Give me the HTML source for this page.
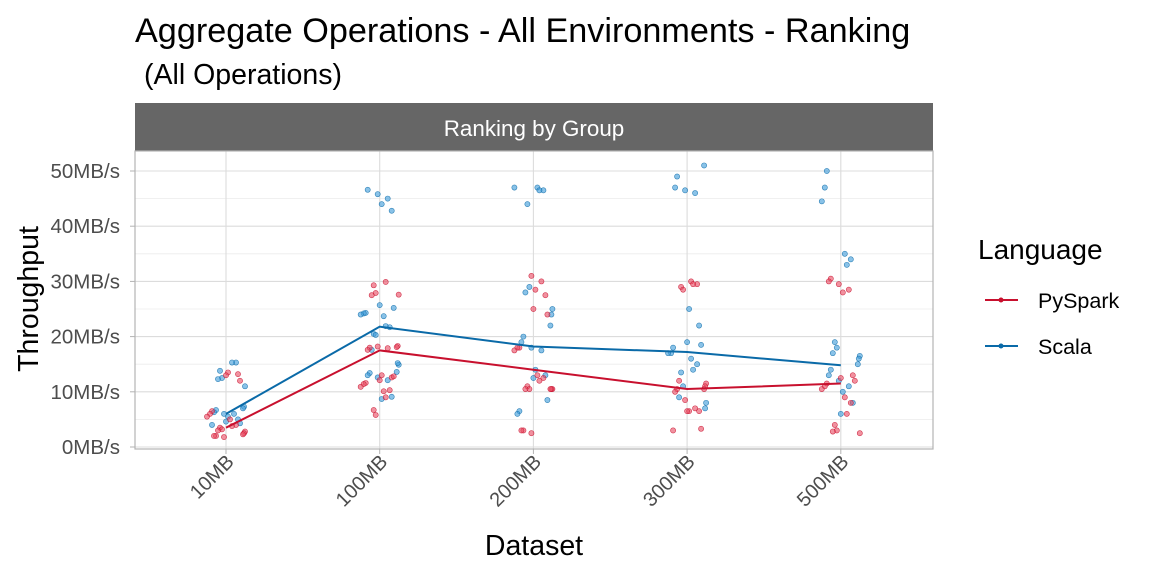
<!DOCTYPE html>
<html><head><meta charset="utf-8"><style>
body{margin:0;background:#fff;font-family:"Liberation Sans",Arial,sans-serif}
</style></head><body>
<svg width="1152" height="576" xmlns="http://www.w3.org/2000/svg">
<text x="135" y="42" font-size="34.2" fill="#000">Aggregate Operations - All Environments - Ranking</text>
<text x="144" y="84" font-size="28.5" fill="#000">(All Operations)</text>
<rect x="135" y="103" width="798" height="48" fill="#666"/>
<text x="534" y="136" font-size="22.4" fill="#fff" text-anchor="middle">Ranking by Group</text>
<g id="grid"></g>
<g id="marks"></g>
<rect x="135" y="151" width="798" height="298" fill="none" stroke="#b3b3b3" stroke-width="1.2"/>
<g id="axes"></g>
<text x="534" y="555" font-size="28.5" text-anchor="middle">Dataset</text>
<text transform="translate(38,299) rotate(-90)" font-size="28.5" text-anchor="middle">Throughput</text>
<g>
<text x="978" y="259" font-size="28">Language</text>
<g><line x1="985" y1="300" x2="1018" y2="300" stroke="#c8102e" stroke-width="2"/><circle cx="1001" cy="300" r="2.5" fill="#c8102e"/><text x="1038" y="308" font-size="21.5">PySpark</text></g>
<g><line x1="985" y1="346" x2="1018" y2="346" stroke="#0a6aa8" stroke-width="2"/><circle cx="1001" cy="346" r="2.5" fill="#0a6aa8"/><text x="1038" y="354" font-size="21.5">Scala</text></g>
</g>
</svg>
<script>
const categories=["10MB","100MB","200MB","300MB","500MB"];
const yTicks=[0,10,20,30,40,50];
const pysparkMean=[3.5,17.5,14,10.5,11.5];
const scalaMean=[6,21.8,18.2,17.2,14.8];
const pysparkPoints=[
[13.5,13.2,13,12,6.5,6,5.5,5,4,3.8,3.5,3.2,3,2.8,2.5,2.3,2,2,1.8],
[29.9,29.3,27.9,27.5,27.6,18.3,18.1,18,17.6,18.2,17.9,13,12.6,12.1,12.8,11.6,11.4,10.9,10.1,10.3,9,6.7,5.8],
[31,30,28.5,27.5,25,24,18,18,17.5,13,12.5,12,11,10.5,10.5,10.5,10.5,10.5,3,3,2.5],
[30,29.5,29.5,29,28.5,12,11.5,11,10.5,10.5,10,8.5,7,6.5,6.5,6.5,3.3,3],
[30.5,30,29.5,28.5,28,13,12.5,12,11.5,11,10.5,9,8,6,4,3,2.8,2.5]];
const scalaPoints=[
[15.3,15.3,13.8,12.5,12.3,11,7.3,7,6.7,6.3,6,6,5.5,5,4.6,4.3,4],
[46.6,45.8,45,44,42.8,25.7,25.2,24.3,24.2,24,23.7,21.7,21.9,20.5,20.3,17.6,14.9,15.2,13.6,13.4,13,12.6,12.1,8.7,9.1],
[47,47,46.5,46.5,44,29,28,25,24,22,20,19,18,17.5,14,13,12.5,8.5,6.5,6],
[51,49,47,46.5,46,25,22,19,18.5,18,17,17,16,15,14,13.5,11,9,8,7],
[50,47,44.5,35,34,33,19,18,17,16.5,16,15,14,13,12,11,10,8,6]];
const jitterPattern=[-0.8,0.5,-0.2,0.9,-0.6,0.1,0.7,-0.95,0.3,-0.4,0.85,-0.1,0.6,-0.7,0.2,-0.3,0.95,-0.5,0.4,0];
const NS="http://www.w3.org/2000/svg";
const x=i=>226+i*153.7;
const y=v=>447-v*5.52;
function el(tag,attrs,parent){const e=document.createElementNS(NS,tag);for(const k in attrs)e.setAttribute(k,attrs[k]);parent.appendChild(e);return e;}
const grid=document.getElementById('grid'),marks=document.getElementById('marks'),axes=document.getElementById('axes');
for(let v=5;v<=52;v+=10){const l=el('line',{x1:135,x2:933,y1:y(v),y2:y(v),stroke:'#ececec','stroke-width':0.8},grid);}
yTicks.forEach(v=>{const l=el('line',{x1:135,x2:933,y1:y(v),y2:y(v),stroke:'#dcdcdc','stroke-width':1.1},grid);
const t=el('text',{x:120,y:y(v)+7,'font-size':20.5,fill:'#4d4d4d','text-anchor':'end'},axes);t.textContent=v+'MB/s';
const tk=el('line',{x1:130,x2:135,y1:y(v),y2:y(v),stroke:'#b3b3b3'},axes);});
categories.forEach((c,i)=>{const l=el('line',{x1:x(i),x2:x(i),y1:151,y2:449,stroke:'#dcdcdc','stroke-width':1.1},grid);
const tk=el('line',{x1:x(i),x2:x(i),y1:449,y2:454,stroke:'#b3b3b3'},axes);
const t=el('text',{transform:`translate(${x(i)+9},${463}) rotate(-45)`,'font-size':20,fill:'#4d4d4d','text-anchor':'end'},axes);t.textContent=c;});
function drawPoints(data,fill,stroke,name,seed){data.forEach((arr,i)=>arr.forEach((v,j)=>{const off=jitterPattern[(j*7+seed+i*3)%jitterPattern.length]*20;
const c=el('circle',{cx:x(i)+off,cy:y(v),r:2.6,fill:fill,'fill-opacity':0.6,stroke:stroke,'stroke-opacity':0.8,'stroke-width':0.6},marks);}));}
drawPoints(scalaPoints,'#3a9ad9','#0a6aa8','scala-point',1);
drawPoints(pysparkPoints,'#e8485f','#c8102e','pyspark-point',5);
function drawLine(vals,color,name){const p=el('polyline',{points:vals.map((v,i)=>x(i)+','+y(v)).join(' '),fill:'none',stroke:color,'stroke-width':2},marks);}
drawLine(pysparkMean,'#c8102e','pyspark-mean-line');
drawLine(scalaMean,'#0a6aa8','scala-mean-line');
</script>
</body></html>
